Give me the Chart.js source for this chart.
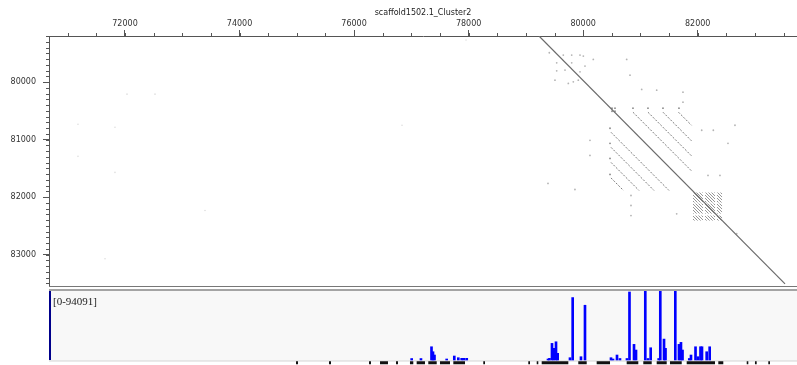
<!DOCTYPE html>
<html>
<head>
<meta charset="utf-8">
<script src="https://cdn.jsdelivr.net/npm/chart.js@4/dist/chart.umd.min.js"></script>
<style>
  html, body { margin: 0; padding: 0; background: #fff; }
  #wrap { position: relative; width: 797px; height: 365px; overflow: hidden; }
  #dot { position: absolute; left: 0; top: 0; }
  #cov { position: absolute; left: 0; top: 287px; }
</style>
</head>
<body>
<div id="wrap">
  <canvas id="dot" width="801" height="290"></canvas>
  <canvas id="cov" width="797" height="78"></canvas>
</div>
<script>
// ---- sequence coordinates (bp) ----
const seqName = 'scaffold1502.1_Cluster2';
const xRange = [70673, 83734];          // horizontal sequence window
const yRange = [79197, 83546];          // vertical sequence window
const xTicks = [72000, 74000, 76000, 78000, 80000, 82000];
const yTicks = [80000, 81000, 82000, 83000];
const xMinorStep = 500;
const yMinorStep = 100;

// main self-match diagonal: [x, y] start and end
const selfDiagonal = [[79229, 79197], [83525, 83508]];

// tandem-repeat match segments: [xStart, yStart, xEnd, yEnd]
const repeatSegments = [
  [80870, 80523, 81892, 81544],
  [81132, 80523, 81892, 81282],
  [81394, 80523, 81892, 81021],
  [81665, 80523, 81892, 80750],
  [80486, 80872, 81499, 81884],
  [80486, 81134, 81237, 81884],
  [80486, 81396, 80975, 81884],
  [80486, 81666, 80704, 81884]
];

// short-period repeat blocks: [xStart, xEnd, yStart, yEnd]
const denseBlocks = [
  [81918, 82093, 81920, 82094], [82128, 82302, 81920, 82094], [82337, 82425, 81920, 82094],
  [81918, 82093, 82111, 82286], [82128, 82302, 82111, 82286], [82337, 82425, 82111, 82286],
  [81918, 82093, 82320, 82408], [82128, 82302, 82320, 82408], [82337, 82425, 82320, 82408]
];

// isolated word hits [x, y]
const nearHits = [
  [79409, 79488], [79653, 79529], [79800, 79529], [79945, 79529], [80003, 79546],
  [79538, 79663], [79800, 79663], [80032, 79721], [79538, 79803], [79683, 79790],
  [79945, 79820], [79508, 79965], [79741, 80022], [79828, 79994], [79915, 79965],
  [80177, 79604], [80760, 79604], [80818, 79878], [81022, 80127], [81284, 80139],
  [81743, 80174], [81743, 80349], [79386, 81762], [79857, 81867], [80119, 81012],
  [80119, 81274], [80835, 81972], [80835, 82146], [80835, 82321], [81633, 82291],
  [82681, 82635], [82070, 80837], [82273, 80837], [82180, 81623], [82389, 81623],
  [82651, 80750], [82529, 81064]
];
const repeatAnchors = [
  [80504, 80453], [80556, 80453], [80504, 80506], [80556, 80506],
  [80870, 80453], [81132, 80453], [81394, 80453], [81673, 80453],
  [80469, 80802], [80469, 81064], [80469, 81326], [80469, 81605]
];
const faintHits = [
  [71179, 80733], [71179, 81291], [71825, 80785], [71825, 81570], [72035, 80209],
  [72524, 80209], [73397, 82233], [76837, 80750], [77955, 79267], [71651, 83071]
];

// ---- read-depth track ----
const coverageMax = 94091;
const coveragePos = [
  77006, 77168, 77352, 77378, 77404, 77617, 77750, 77820, 77879, 77919, 77967,
  79386, 79412, 79456, 79486, 79526, 79555, 79770, 79817, 79962, 80032,
  80486, 80521, 80591, 80643, 80765, 80809, 80888, 80923, 81085, 81132, 81179,
  81319, 81347, 81412, 81438, 81609, 81673, 81708, 81735, 81853, 81883,
  81962, 82005, 82049, 82075, 82157, 82209
];
const coverageDepth = [
  2000, 2000, 18060, 11270, 6790, 1360, 5430, 3120, 2300, 2300, 2300,
  1360, 2300, 22670, 15880, 24850, 9100, 3120, 85130, 4480, 74670,
  3120, 1360, 6790, 2040, 2040, 92730, 21320, 13580, 94091, 2040, 16700,
  2040, 94091, 28510, 15880, 94091, 21320, 24030, 13580, 2040, 6790,
  18060, 4480, 18060, 18060, 11270, 18060
];
// annotated features below the depth track: [start, end]
const featureSpans = [
  [74986, 75021], [75562, 75597], [76261, 76295], [76453, 76592], [76732, 76767],
  [76976, 77034], [77093, 77238], [77296, 77443], [77500, 77675], [77733, 77937],
  [78256, 78286], [79042, 79072], [79189, 79217], [79276, 79741], [79915, 80062],
  [80236, 80469], [80760, 80963], [81050, 81197], [81284, 81459], [81516, 81721],
  [81808, 82302], [82360, 82447], [82856, 82884], [83000, 83030], [83233, 83262]
];

// ---------------------------------------------------------------
const tickFont = { family: 'DejaVu Sans', size: 8 };
const pts = arr => arr.map(([x, y]) => ({ x, y }));

function hatchPattern(ctx) {
  const c = document.createElement('canvas');
  c.width = 3; c.height = 3;
  const g = c.getContext('2d');
  g.fillStyle = 'rgba(80,80,80,0.6)';
  for (let i = 0; i < 3; i++) g.fillRect(i, i, 1, 1);
  return ctx.createPattern(c, 'repeat');
}

function noEdgePadding(s) {
  s.paddingTop = 0; s.paddingBottom = 0; s.paddingLeft = 0; s.paddingRight = 0;
}

const dotDecor = {
  id: 'dotDecor',
  beforeDatasetsDraw(chart) {
    const { ctx, chartArea: a, scales: { x, y } } = chart;
    ctx.save();
    ctx.beginPath();
    ctx.rect(a.left, a.top, a.right - a.left, a.bottom - a.top);
    ctx.clip();
    ctx.fillStyle = hatchPattern(ctx);
    denseBlocks.forEach(([x1, x2, y1, y2]) => {
      const px1 = x.getPixelForValue(x1), px2 = x.getPixelForValue(x2);
      const py1 = y.getPixelForValue(y1), py2 = y.getPixelForValue(y2);
      ctx.fillRect(px1, Math.min(py1, py2), px2 - px1, Math.abs(py2 - py1));
    });
    ctx.restore();
  },
  afterDraw(chart) {
    const { ctx, chartArea: a, scales: { x, y } } = chart;
    ctx.save();
    ctx.strokeStyle = '#555';
    ctx.lineWidth = 1;
    ctx.beginPath();
    for (let v = Math.ceil(x.min / xMinorStep) * xMinorStep; v <= x.max; v += xMinorStep) {
      const px = Math.round(x.getPixelForValue(v)) + 0.5;
      ctx.moveTo(px, a.top - 3); ctx.lineTo(px, a.top);
    }
    for (let v = Math.ceil(y.min / yMinorStep) * yMinorStep; v <= y.max; v += yMinorStep) {
      const py = Math.round(y.getPixelForValue(v)) + 0.5;
      ctx.moveTo(a.left - 3, py); ctx.lineTo(a.left, py);
    }
    ctx.stroke();
    ctx.strokeStyle = '#777';
    ctx.beginPath();
    ctx.moveTo(a.left, a.bottom + 0.5); ctx.lineTo(a.right, a.bottom + 0.5);
    ctx.stroke();
    ctx.restore();
  }
};

const repeatDatasets = repeatSegments.map(s => ({
  data: [{ x: s[0], y: s[1] }, { x: s[2], y: s[3] }],
  showLine: true,
  borderColor: 'rgba(80,80,80,0.75)',
  borderWidth: 1,
  borderDash: [2, 1.5],
  pointRadius: 0
}));

new Chart(document.getElementById('dot'), {
  type: 'scatter',
  data: {
    datasets: [
      { data: pts(selfDiagonal), showLine: true, borderColor: '#6a6a6a', borderWidth: 1.2, pointRadius: 0 },
      ...repeatDatasets,
      { data: pts(nearHits), pointRadius: 0.9, borderWidth: 0, backgroundColor: '#b4b4b4' },
      { data: pts(repeatAnchors), pointRadius: 0.9, borderWidth: 0, backgroundColor: '#8a8a8a' },
      { data: pts(faintHits), pointRadius: 0.8, borderWidth: 0, backgroundColor: '#dddddd' }
    ]
  },
  options: {
    responsive: false,
    animation: false,
    events: [],
    layout: { padding: { top: 0, right: 0, bottom: 2, left: 0 } },
    plugins: {
      legend: { display: false },
      tooltip: { enabled: false },
      title: {
        display: true,
        text: seqName,
        fullSize: false,
        color: '#222',
        font: { family: 'DejaVu Sans', size: 8, weight: 'normal', lineHeight: 1 },
        padding: { top: 9, bottom: 2 }
      }
    },
    scales: {
      x: {
        type: 'linear',
        position: 'top',
        min: xRange[0],
        max: xRange[1],
        afterBuildTicks: s => { s.ticks = xTicks.map(v => ({ value: v })); },
        afterFit: s => { s.height = 17; noEdgePadding(s); },
        ticks: { font: tickFont, color: '#333', padding: 1, maxRotation: 0, autoSkip: false, callback: v => String(v) },
        grid: { drawOnChartArea: false, drawTicks: true, tickLength: 6, tickColor: '#555' },
        border: { color: '#555', width: 1 }
      },
      y: {
        type: 'linear',
        position: 'left',
        reverse: true,
        min: yRange[0],
        max: yRange[1],
        afterBuildTicks: s => { s.ticks = yTicks.map(v => ({ value: v })); },
        afterFit: s => { s.width = 49; noEdgePadding(s); },
        ticks: { font: tickFont, color: '#333', padding: 7, autoSkip: false, callback: v => String(v) },
        grid: { drawOnChartArea: false, drawTicks: true, tickLength: 6, tickColor: '#555' },
        border: { color: '#555', width: 1 }
      }
    }
  },
  plugins: [dotDecor]
});

// ---- depth track ----
const depthFloor = -coverageMax * 0.0725;
const featureLevel = -coverageMax * 0.04;

const trackDecor = {
  id: 'trackDecor',
  beforeDatasetsDraw(chart) {
    const { ctx, chartArea: a, scales: { y } } = chart;
    const top = y.getPixelForValue(coverageMax);
    const base = y.getPixelForValue(0);
    ctx.save();
    ctx.fillStyle = '#f8f8f8';
    ctx.fillRect(a.left, top, a.right - a.left, base - top + 1);
    ctx.fillStyle = '#a4a4a4';
    ctx.fillRect(a.left, top - 2, a.right - a.left, 2);
    ctx.fillStyle = '#d4d4d4';
    ctx.fillRect(a.left, base + 0.5, a.right - a.left, 1);
    ctx.fillStyle = '#00008b';
    ctx.fillRect(a.left, top, 2, base - top);
    ctx.fillStyle = '#222';
    ctx.font = '11px "Liberation Serif", "DejaVu Serif", serif';
    ctx.textBaseline = 'alphabetic';
    ctx.fillText('[0-' + coverageMax + ']', a.left + 4, top + 14);
    ctx.restore();
  }
};

new Chart(document.getElementById('cov'), {
  type: 'bar',
  data: {
    datasets: [
      {
        type: 'bar',
        data: coveragePos.map((x, i) => ({ x, y: coverageDepth[i] })),
        backgroundColor: '#0000ff',
        barThickness: 2,
        borderWidth: 0,
        grouped: false
      },
      {
        type: 'line',
        data: featureSpans.flatMap(([s, e]) => [
          { x: s, y: featureLevel }, { x: e, y: featureLevel }, { x: e, y: null }
        ]),
        borderColor: '#111',
        borderWidth: 3,
        borderCapStyle: 'butt',
        pointRadius: 0,
        spanGaps: false
      }
    ]
  },
  options: {
    responsive: false,
    animation: false,
    events: [],
    layout: { padding: { left: 49, top: 4, right: 0, bottom: 0 } },
    plugins: { legend: { display: false }, tooltip: { enabled: false } },
    scales: {
      x: { type: 'linear', offset: false, grid: { offset: false }, min: xRange[0], max: xRange[1], display: false },
      y: { type: 'linear', min: depthFloor, max: coverageMax, display: false }
    }
  },
  plugins: [trackDecor]
});
</script>
</body>
</html>
